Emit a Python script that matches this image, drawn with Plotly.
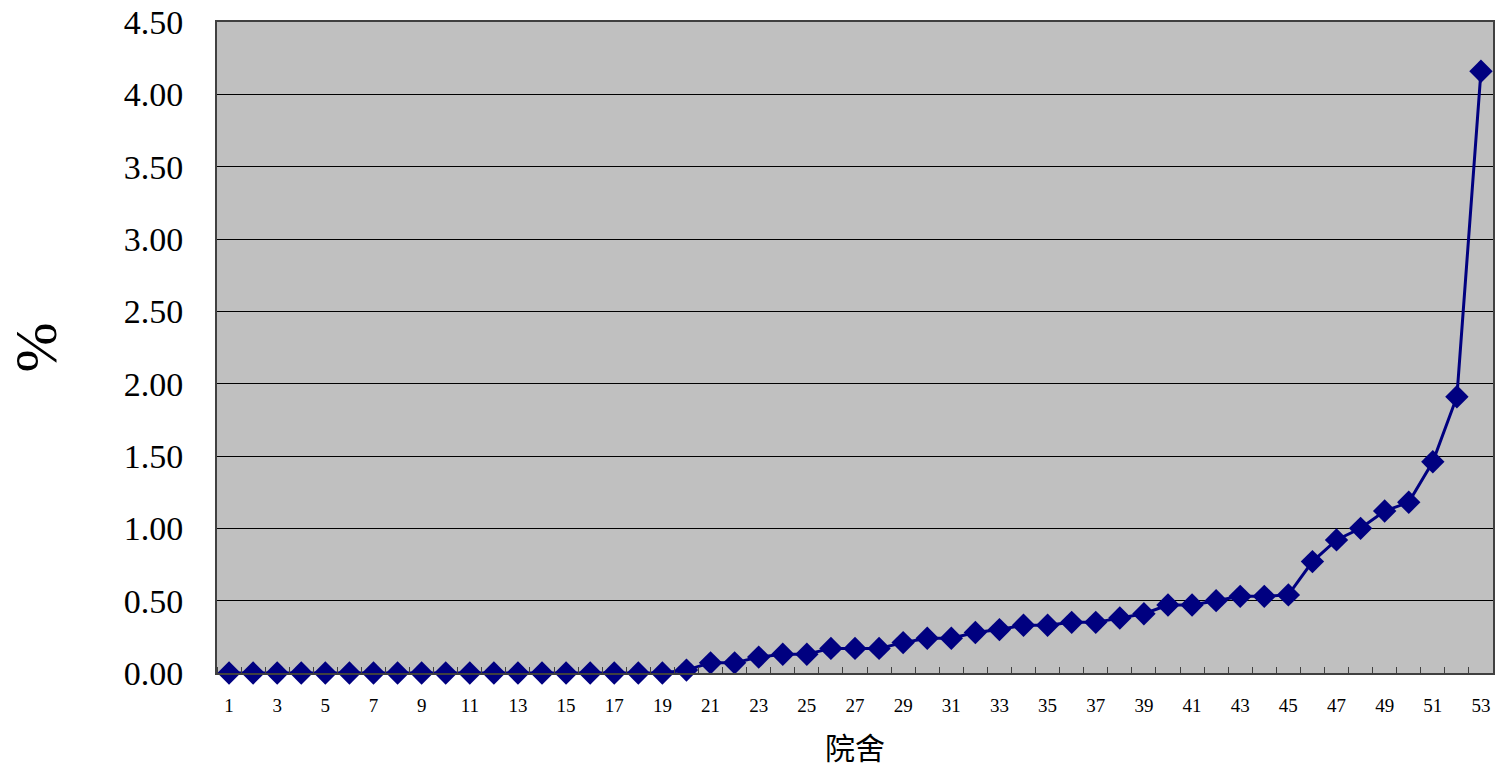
import plotly.graph_objects as go

categories = list(range(1, 54))
values = [0.00] * 19 + [
    0.02, 0.07, 0.07, 0.11, 0.13, 0.13, 0.17, 0.17, 0.17, 0.21,
    0.24, 0.24, 0.28, 0.30, 0.33, 0.33, 0.35, 0.35, 0.38, 0.41,
    0.47, 0.47, 0.50, 0.53, 0.53, 0.54, 0.77, 0.92, 1.00, 1.12,
    1.18, 1.46, 1.91, 4.16,
]
x_tick_labels = [str(c) for c in categories if c % 2 == 1]
x_tick_vals = [c for c in categories if c % 2 == 1]
y_ticks = [0, 0.5, 1.0, 1.5, 2.0, 2.5, 3.0, 3.5, 4.0, 4.5]

NAVY = "#000080"
FONT = "Liberation Serif, Noto Sans CJK TC, serif"

fig = go.Figure()
fig.add_trace(go.Scatter(
    x=categories, y=values, mode="lines+markers",
    line=dict(color=NAVY, width=3),
    marker=dict(symbol="diamond", size=18, color=NAVY),
    cliponaxis=False, showlegend=False, hoverinfo="skip",
))

fig.update_layout(
    width=1495, height=768,
    margin=dict(l=217, r=2, t=22, b=95, autoexpand=False),
    paper_bgcolor="white", plot_bgcolor="#C0C0C0",
    font=dict(family=FONT, color="black"),
)
fig.update_xaxes(
    range=[0.5, 53.5],
    tickmode="array", tickvals=x_tick_vals, ticktext=x_tick_labels,
    ticks="", tickfont=dict(size=19, family=FONT), ticklabelstandoff=14,
    showgrid=False, zeroline=False,
    showline=True, linecolor="#404040", linewidth=2, mirror=True,
    minor=dict(tick0=0.5, dtick=1, ticks="inside", ticklen=6, tickcolor="#404040", tickwidth=1, showgrid=False),
    title=dict(text="院舍", font=dict(size=30, family="Noto Sans CJK TC"), standoff=25),
)
fig.update_yaxes(
    range=[0, 4.5], tickmode="array", tickvals=y_ticks,
    tickformat=".2f", tickfont=dict(size=34, family=FONT),
    ticks="", ticklabelstandoff=25,
    showgrid=True, gridcolor="black", gridwidth=1, zeroline=False,
    showline=True, linecolor="#404040", linewidth=2, mirror=True,
    title=dict(text="%", font=dict(size=60, family=FONT), standoff=48),
)

fig.write_html(
    "out.html",
    config={"displayModeBar": False},
    post_script="document.body.style.margin='0';document.body.style.overflow='hidden';",
)
